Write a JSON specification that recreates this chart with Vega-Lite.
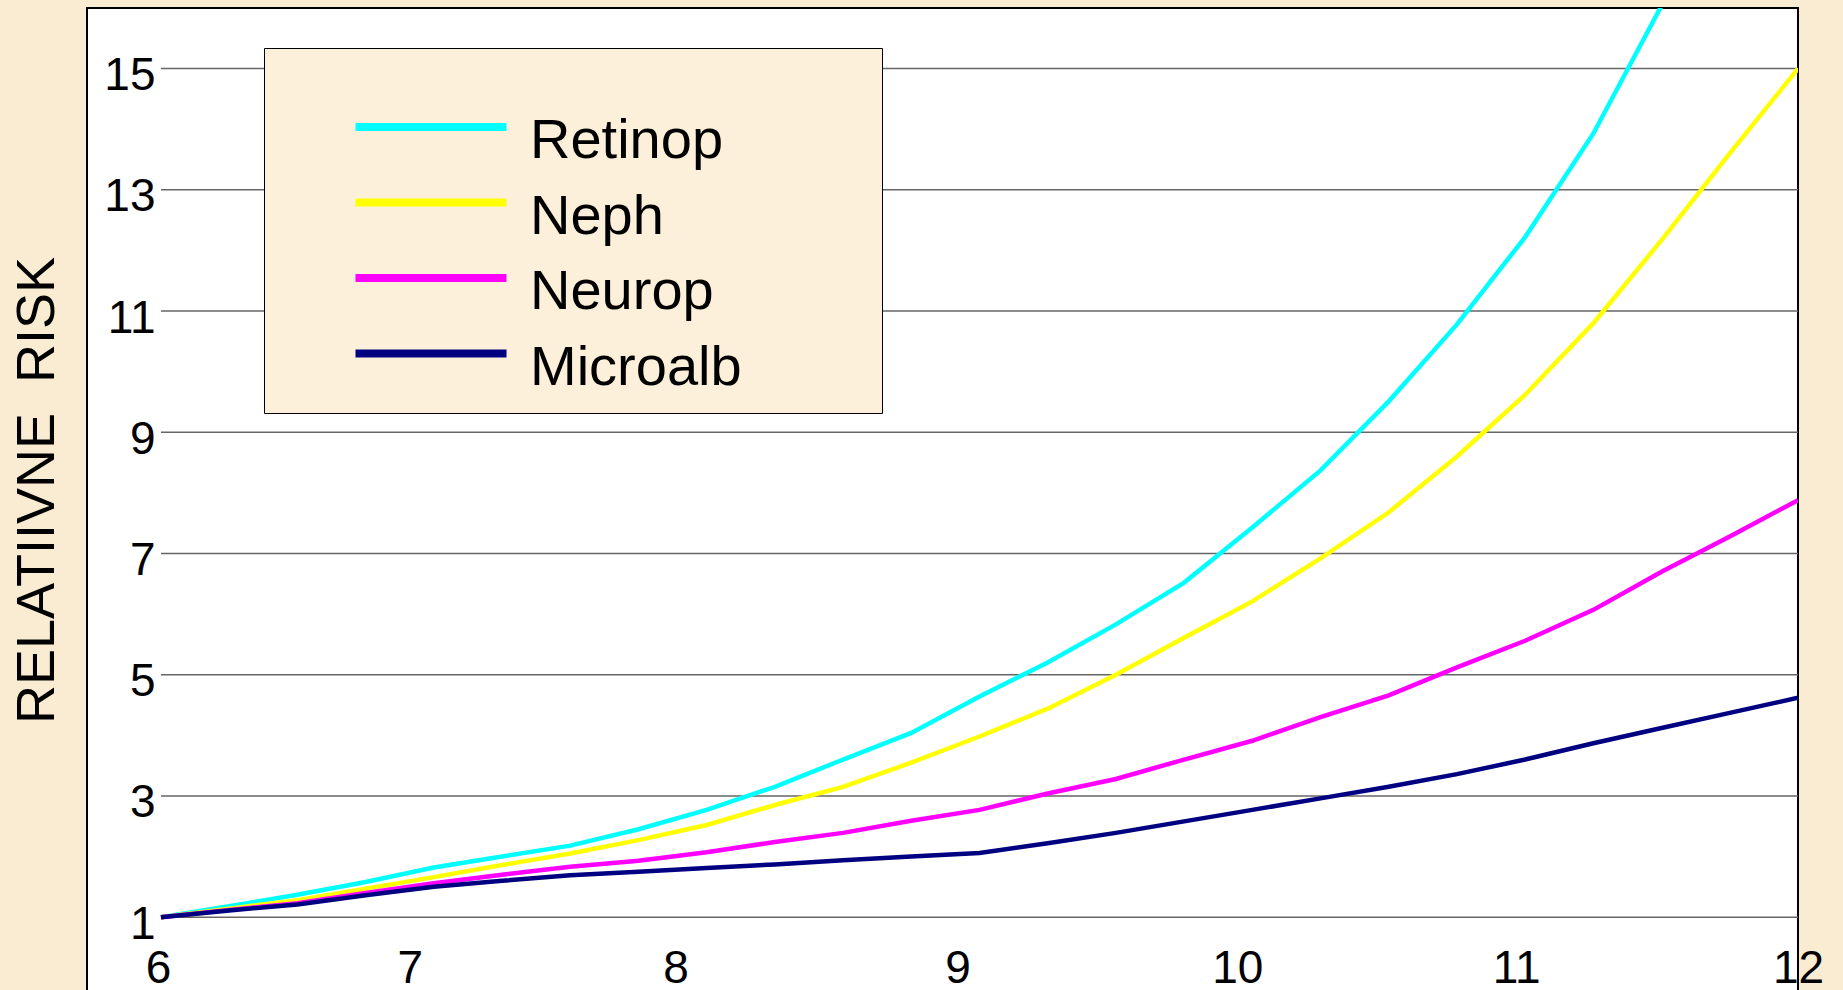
{
  "$schema": "https://vega.github.io/schema/vega-lite/v6.json",
  "width": 1711,
  "height": 994,
  "autosize": {"type": "none"},
  "padding": {"left": 87, "top": 8, "right": 45, "bottom": -12},
  "background": "#FAECD2",
  "config": {
    "view": {"fill": "white", "stroke": "black", "strokeWidth": 2},
    "font": "Liberation Sans",
    "axis": {"domain": false, "ticks": false, "tickSize": 0, "grid": false, "labelFont": "Liberation Sans", "labelFontSize": 46, "labelColor": "black", "labelOverlap": false},
    "axisX": {"labelPadding": -34, "labelBaseline": "middle", "labelFlush": false, "labelBound": false},
    "axisY": {"labelPadding": -68, "labelAlign": "right", "labelBaseline": "middle", "labelOffset": 7, "titleFont": "Liberation Sans", "titleFontSize": 54, "titleFontWeight": "normal", "titleColor": "black", "titleX": -50, "titleY": 482, "titleAngle": -90, "titleBaseline": "middle", "titleAlign": "center"}
  },
  "datasets": {
    "grid": [{"g": 1}, {"g": 3}, {"g": 5}, {"g": 7}, {"g": 9}, {"g": 11}, {"g": 13}, {"g": 15}],
    "curves": [
      {"series": "Retinop", "x": 6.0, "risk": 1.0},
      {"series": "Retinop", "x": 6.25, "risk": 1.18},
      {"series": "Retinop", "x": 6.5, "risk": 1.37},
      {"series": "Retinop", "x": 6.75, "risk": 1.58},
      {"series": "Retinop", "x": 7.0, "risk": 1.82},
      {"series": "Retinop", "x": 7.25, "risk": 2.0},
      {"series": "Retinop", "x": 7.5, "risk": 2.18},
      {"series": "Retinop", "x": 7.75, "risk": 2.45},
      {"series": "Retinop", "x": 8.0, "risk": 2.77},
      {"series": "Retinop", "x": 8.25, "risk": 3.15},
      {"series": "Retinop", "x": 8.5, "risk": 3.6},
      {"series": "Retinop", "x": 8.75, "risk": 4.04},
      {"series": "Retinop", "x": 9.0, "risk": 4.64},
      {"series": "Retinop", "x": 9.25, "risk": 5.2},
      {"series": "Retinop", "x": 9.5, "risk": 5.83},
      {"series": "Retinop", "x": 9.75, "risk": 6.52},
      {"series": "Retinop", "x": 10.0, "risk": 7.43},
      {"series": "Retinop", "x": 10.25, "risk": 8.37},
      {"series": "Retinop", "x": 10.5, "risk": 9.51},
      {"series": "Retinop", "x": 10.75, "risk": 10.78},
      {"series": "Retinop", "x": 11.0, "risk": 12.22},
      {"series": "Retinop", "x": 11.25, "risk": 13.93},
      {"series": "Retinop", "x": 11.5, "risk": 16.04},
      {"series": "Retinop", "x": 11.75, "risk": 18.5},
      {"series": "Retinop", "x": 12.0, "risk": 21.0},
      {"series": "Neph", "x": 6.0, "risk": 1.0},
      {"series": "Neph", "x": 6.25, "risk": 1.14},
      {"series": "Neph", "x": 6.5, "risk": 1.28},
      {"series": "Neph", "x": 6.75, "risk": 1.47},
      {"series": "Neph", "x": 7.0, "risk": 1.66},
      {"series": "Neph", "x": 7.25, "risk": 1.86},
      {"series": "Neph", "x": 7.5, "risk": 2.05},
      {"series": "Neph", "x": 7.75, "risk": 2.27},
      {"series": "Neph", "x": 8.0, "risk": 2.52},
      {"series": "Neph", "x": 8.25, "risk": 2.85},
      {"series": "Neph", "x": 8.5, "risk": 3.15},
      {"series": "Neph", "x": 8.75, "risk": 3.55},
      {"series": "Neph", "x": 9.0, "risk": 3.98},
      {"series": "Neph", "x": 9.25, "risk": 4.44},
      {"series": "Neph", "x": 9.5, "risk": 5.0},
      {"series": "Neph", "x": 9.75, "risk": 5.61},
      {"series": "Neph", "x": 10.0, "risk": 6.21},
      {"series": "Neph", "x": 10.25, "risk": 6.92},
      {"series": "Neph", "x": 10.5, "risk": 7.68},
      {"series": "Neph", "x": 10.75, "risk": 8.6},
      {"series": "Neph", "x": 11.0, "risk": 9.62},
      {"series": "Neph", "x": 11.25, "risk": 10.8},
      {"series": "Neph", "x": 11.5, "risk": 12.17},
      {"series": "Neph", "x": 11.75, "risk": 13.6},
      {"series": "Neph", "x": 12.0, "risk": 15.0},
      {"series": "Neurop", "x": 6.0, "risk": 1.0},
      {"series": "Neurop", "x": 6.25, "risk": 1.12},
      {"series": "Neurop", "x": 6.5, "risk": 1.23},
      {"series": "Neurop", "x": 6.75, "risk": 1.4},
      {"series": "Neurop", "x": 7.0, "risk": 1.56},
      {"series": "Neurop", "x": 7.25, "risk": 1.7},
      {"series": "Neurop", "x": 7.5, "risk": 1.83},
      {"series": "Neurop", "x": 7.75, "risk": 1.93},
      {"series": "Neurop", "x": 8.0, "risk": 2.07},
      {"series": "Neurop", "x": 8.25, "risk": 2.24},
      {"series": "Neurop", "x": 8.5, "risk": 2.39},
      {"series": "Neurop", "x": 8.75, "risk": 2.59},
      {"series": "Neurop", "x": 9.0, "risk": 2.77},
      {"series": "Neurop", "x": 9.25, "risk": 3.04},
      {"series": "Neurop", "x": 9.5, "risk": 3.28},
      {"series": "Neurop", "x": 9.75, "risk": 3.6},
      {"series": "Neurop", "x": 10.0, "risk": 3.91},
      {"series": "Neurop", "x": 10.25, "risk": 4.3},
      {"series": "Neurop", "x": 10.5, "risk": 4.66},
      {"series": "Neurop", "x": 10.75, "risk": 5.12},
      {"series": "Neurop", "x": 11.0, "risk": 5.56},
      {"series": "Neurop", "x": 11.25, "risk": 6.07},
      {"series": "Neurop", "x": 11.5, "risk": 6.7},
      {"series": "Neurop", "x": 11.75, "risk": 7.28},
      {"series": "Neurop", "x": 12.0, "risk": 7.88},
      {"series": "Microalb", "x": 6.0, "risk": 1.0},
      {"series": "Microalb", "x": 6.25, "risk": 1.11},
      {"series": "Microalb", "x": 6.5, "risk": 1.21},
      {"series": "Microalb", "x": 6.75, "risk": 1.36},
      {"series": "Microalb", "x": 7.0, "risk": 1.5},
      {"series": "Microalb", "x": 7.25, "risk": 1.6},
      {"series": "Microalb", "x": 7.5, "risk": 1.69},
      {"series": "Microalb", "x": 7.75, "risk": 1.75},
      {"series": "Microalb", "x": 8.0, "risk": 1.81},
      {"series": "Microalb", "x": 8.25, "risk": 1.87},
      {"series": "Microalb", "x": 8.5, "risk": 1.94},
      {"series": "Microalb", "x": 8.75, "risk": 2.0},
      {"series": "Microalb", "x": 9.0, "risk": 2.06},
      {"series": "Microalb", "x": 9.25, "risk": 2.22},
      {"series": "Microalb", "x": 9.5, "risk": 2.39},
      {"series": "Microalb", "x": 9.75, "risk": 2.58},
      {"series": "Microalb", "x": 10.0, "risk": 2.77},
      {"series": "Microalb", "x": 10.25, "risk": 2.96},
      {"series": "Microalb", "x": 10.5, "risk": 3.15},
      {"series": "Microalb", "x": 10.75, "risk": 3.36},
      {"series": "Microalb", "x": 11.0, "risk": 3.6},
      {"series": "Microalb", "x": 11.25, "risk": 3.87},
      {"series": "Microalb", "x": 11.5, "risk": 4.12},
      {"series": "Microalb", "x": 11.75, "risk": 4.37},
      {"series": "Microalb", "x": 12.0, "risk": 4.62}
    ]
  },
  "layer": [
    {
      "data": {"name": "grid"},
      "mark": {"type": "rule", "color": "#666666", "strokeWidth": 1.5},
      "encoding": {
        "y": {"field": "g", "type": "quantitative", "scale": {"domain": [-0.4, 16], "nice": false, "zero": false}, "axis": {"values": [1, 3, 5, 7, 9, 11, 13, 15], "title": "RELATIIVNE\u00a0 RISK"}},
        "x": {"datum": 6, "type": "quantitative", "scale": {"domain": [5.729, 12], "nice": false, "zero": false}, "axis": {"values": [6, 7, 8, 9, 10, 11, 12], "title": null, "labelOffset": {"condition": [{"test": "datum.value == 6", "value": -3}, {"test": "datum.value == 7", "value": -24}, {"test": "datum.value == 8", "value": -31}, {"test": "datum.value == 9", "value": -22}, {"test": "datum.value == 10", "value": -15}, {"test": "datum.value == 11", "value": -9}], "value": 0}}},
        "x2": {"datum": 12}
      }
    },
    {
      "data": {"name": "curves"},
      "mark": {"type": "line", "strokeWidth": 4.5, "clip": true},
      "encoding": {
        "x": {"field": "x", "type": "quantitative", "axis": {"values": [6, 7, 8, 9, 10, 11, 12], "title": null, "labelOffset": {"condition": [{"test": "datum.value == 6", "value": -3}, {"test": "datum.value == 7", "value": -24}, {"test": "datum.value == 8", "value": -31}, {"test": "datum.value == 9", "value": -22}, {"test": "datum.value == 10", "value": -15}, {"test": "datum.value == 11", "value": -9}], "value": 0}}},
        "y": {"field": "risk", "type": "quantitative", "axis": {"values": [1, 3, 5, 7, 9, 11, 13, 15], "title": "RELATIIVNE\u00a0 RISK"}},
        "color": {
          "field": "series",
          "type": "nominal",
          "scale": {"domain": ["Retinop", "Neph", "Neurop", "Microalb"], "range": ["#00FFFF", "#FFFF00", "#FF00FF", "#000080"]},
          "legend": {
            "orient": "none",
            "legendX": 177,
            "legendY": 40,
            "title": "\u00a0\u00a0\u00a0\u00a0\u00a0\u00a0\u00a0\u00a0\u00a0\u00a0\u00a0\u00a0\u00a0\u00a0\u00a0\u00a0\u00a0\u00a0\u00a0\u00a0\u00a0\u00a0\u00a0\u00a0\u00a0\u00a0\u00a0\u00a0\u00a0\u00a0\u00a0\u00a0\u00a0\u00a0\u00a0\u00a0\u00a0\u00a0\u00a0\u00a0",
            "titleFontSize": 30,
            "titlePadding": 18,
            "titleLimit": 3000,
            "fillColor": "#FCF0DA",
            "strokeColor": "black",
            "padding": 17,
            "symbolType": "M-3.775,-0.7H3.775",
            "symbolSize": 1600,
            "symbolStrokeWidth": 8,
            "symbolOffset": 122,
            "labelOffset": 71,
            "labelFont": "Liberation Sans",
            "labelFontSize": 56,
            "labelColor": "black",
            "labelBaseline": "middle",
            "labelLimit": 0,
            "labelExpr": "datum.label + '\u2800\u2800\u2800'",
            "rowPadding": 17.5
          }
        }
      }
    }
  ]
}
